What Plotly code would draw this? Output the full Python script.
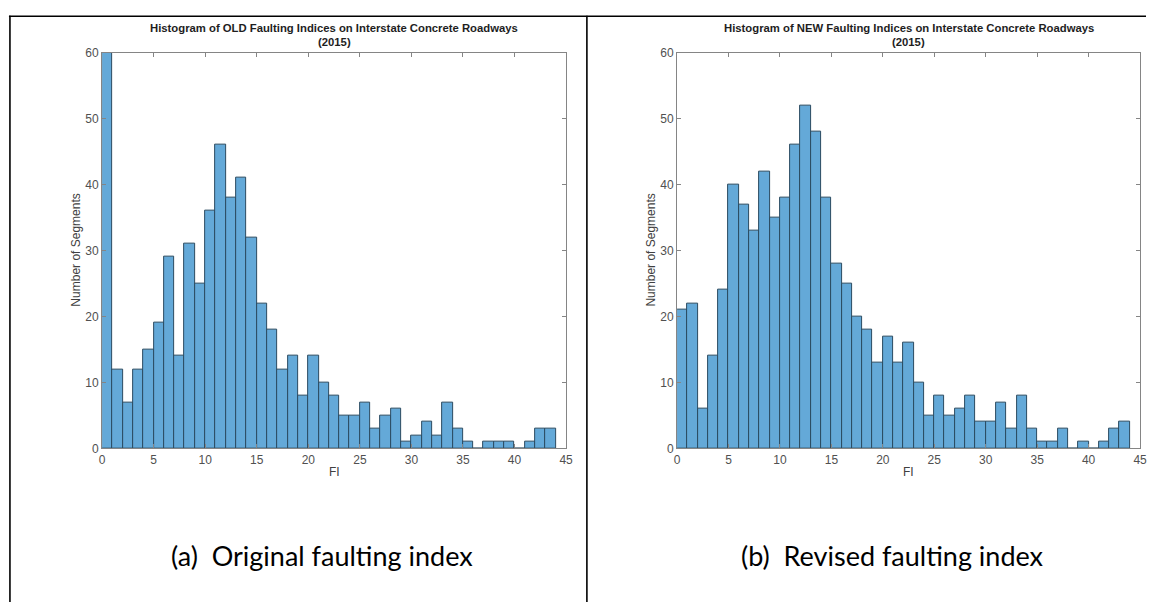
import plotly.graph_objects as go

# Histogram bins: unit-width bins from 0 to 44
bin_edges = list(range(0, 45))

# Segment counts per bin, original faulting index
old_counts = [60, 12, 7, 12, 15, 19, 29, 14, 31, 25, 36, 46, 38, 41, 32, 22, 18, 12, 14, 8,
              14, 10, 8, 5, 5, 7, 3, 5, 6, 1, 2, 4, 2, 7, 3, 1, 0, 1, 1, 1, 0, 1, 3, 3]

# Segment counts per bin, revised faulting index
new_counts = [21, 22, 6, 14, 24, 40, 37, 33, 42, 35, 38, 46, 52, 48, 38, 28, 25, 20, 18, 13,
              17, 13, 16, 10, 5, 8, 5, 6, 8, 4, 4, 7, 3, 8, 3, 1, 1, 3, 0, 1, 0, 1, 3, 4]

titles = ["Histogram of OLD Faulting Indices on Interstate Concrete Roadways",
          "Histogram of NEW Faulting Indices on Interstate Concrete Roadways"]
subtitle = "(2015)"
captions = ["(a)  Original faulting index", "(b)  Revised faulting index"]
x_ticks = [0, 5, 10, 15, 20, 25, 30, 35, 40, 45]
y_ticks = [0, 10, 20, 30, 40, 50, 60]

W, H = 1153, 609
BAR_FILL = "#64a9d8"
BAR_EDGE = "#2b4b60"
FRAME = "#858585"
SANS = "Liberation Sans, Arial, sans-serif"
TICK_FONT = dict(family=SANS, size=12, color="#505050")


def px_x(p):
    return p / W


def px_y(p):
    return 1 - p / H


centers = [e + 0.5 for e in bin_edges[:-1]]
panels = [
    dict(counts=old_counts, x0=100, x1=568),
    dict(counts=new_counts, x0=680, x1=1147),
]
plot_top, plot_bottom = 46.7, 451.7

fig = go.Figure()
annotations = []
for i, p in enumerate(panels):
    sfx = "" if i == 0 else str(i + 1)
    fig.add_trace(go.Bar(
        x=centers, y=p["counts"], width=1,
        marker=dict(color=BAR_FILL, line=dict(color=BAR_EDGE, width=1)),
        xaxis="x" + sfx, yaxis="y" + sfx, showlegend=False,
    ))
    axis_common = dict(
        showline=True, linecolor=FRAME, linewidth=1.2, mirror="ticks",
        ticks="inside", ticklen=4, tickcolor=FRAME, tickwidth=1,
        showgrid=False, zeroline=False, tickfont=TICK_FONT, fixedrange=True,
    )
    fig.update_layout(**{
        "xaxis" + sfx: dict(axis_common, domain=[px_x(p["x0"]), px_x(p["x1"])],
                            range=[0, 45], tickvals=x_ticks,
                            anchor="y" + sfx),
        "yaxis" + sfx: dict(axis_common, domain=[px_y(plot_bottom), px_y(plot_top)],
                            range=[0, 60], tickvals=y_ticks,
                            anchor="x" + sfx),
    })
    cx = (p["x0"] + p["x1"]) / 2
    annotations += [
        dict(text="<b>" + titles[i] + "</b>", x=px_x(cx), y=px_y(21), xref="paper", yref="paper",
             showarrow=False, xanchor="center", yanchor="middle",
             font=dict(family=SANS, size=11.3, color="#1e1e1e")),
        dict(text="<b>" + subtitle + "</b>", x=px_x(cx), y=px_y(36), xref="paper", yref="paper",
             showarrow=False, xanchor="center", yanchor="middle",
             font=dict(family=SANS, size=11.3, color="#1e1e1e")),
        dict(text="FI", x=px_x(cx), y=px_y(476), xref="paper", yref="paper",
             showarrow=False, xanchor="center", yanchor="middle",
             font=dict(family=SANS, size=12, color="#404040")),
        dict(text="Number of Segments", x=px_x(p["x0"] - 26), y=px_y(249), xref="paper", yref="paper",
             showarrow=False, xanchor="center", yanchor="middle", textangle=-90,
             font=dict(family=SANS, size=12, color="#404040")),
        dict(text=captions[i], x=px_x(322 if i == 0 else 897), y=px_y(561), xref="paper", yref="paper",
             showarrow=False, xanchor="center", yanchor="middle",
             font=dict(family="Lato, sans-serif", size=27, color="#000000")),
    ]

# Table-style frame lines around the two panels
line_style = dict(color="#000000", width=1.6)
shapes = [
    dict(type="line", xref="paper", yref="paper", x0=px_x(6), x1=1, y0=px_y(9.5), y1=px_y(9.5), line=line_style),
    dict(type="line", xref="paper", yref="paper", x0=px_x(7), x1=px_x(7), y0=px_y(9), y1=0, line=line_style),
    dict(type="line", xref="paper", yref="paper", x0=px_x(589), x1=px_x(589), y0=px_y(9), y1=0, line=line_style),
]

fig.update_layout(
    width=W, height=H,
    margin=dict(l=0, r=0, t=0, b=0),
    paper_bgcolor="white", plot_bgcolor="white",
    bargap=0, annotations=annotations, shapes=shapes,
)

fig.write_html("out.html", config={"displayModeBar": False})
